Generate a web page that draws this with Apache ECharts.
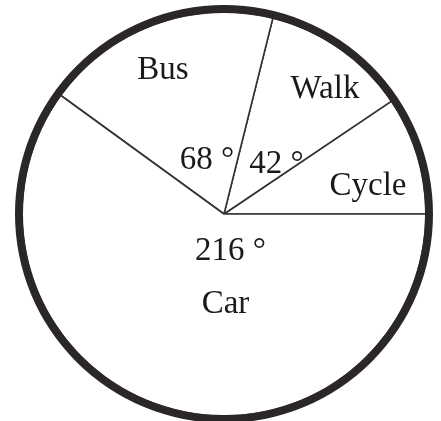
<!DOCTYPE html>
<html><head><meta charset="utf-8">
<script src="https://cdn.jsdelivr.net/npm/echarts@6/dist/echarts.min.js"></script>
<style>html,body{margin:0;padding:0;background:#fff}#c{width:441px;height:421px}</style>
</head><body><div id="c"></div>
<script>
// ---- data ----
const categories = ['Cycle', 'Walk', 'Bus', 'Car'];
const degrees = [34, 42, 68, 216];
const showDegree = [false, true, true, true];

// ---- layout (label offsets in px from the pie centre) ----
const nameOffsets = [[144, -28], [101, -125], [-61, -144], [1.5, 90]];
const degreeOffsets = [[0, 0], [52.5, -50], [-17, -54], [6.5, 37.5]];

const CX = 224, CY = 214, R_OUT = 209, RING = 8;
const FONT = 'Liberation Serif';
const TEXT = '#1a1a1a';

const chart = echarts.init(document.getElementById('c'), null, { renderer: 'canvas' });
const pieData = categories.map((n, i) => ({ name: n, value: degrees[i] }));

chart.setOption({
  animation: false,
  backgroundColor: '#fff',
  series: [
    {
      type: 'pie', silent: true, center: [CX, CY], radius: [0, R_OUT - RING + 1],
      startAngle: 0, clockwise: false, avoidLabelOverlap: false,
      data: pieData,
      itemStyle: { color: '#fff', borderColor: '#333', borderWidth: 1.6 },
      label: { show: true, position: 'inside', formatter: '{b}', fontFamily: FONT, fontSize: 33, color: TEXT },
      labelLine: { show: false },
      labelLayout: p => ({ x: CX + nameOffsets[p.dataIndex][0], y: CY + nameOffsets[p.dataIndex][1], align: 'center', verticalAlign: 'middle' }),
      emphasis: { disabled: true }
    },
    {
      type: 'pie', silent: true, center: [CX, CY], radius: [0, R_OUT - RING + 1],
      startAngle: 0, clockwise: false, avoidLabelOverlap: false,
      data: categories.map((n, i) => ({ name: n, value: degrees[i], label: { show: showDegree[i] } })),
      itemStyle: { color: 'rgba(0,0,0,0)', borderWidth: 0 },
      label: {
        show: true, position: 'inside', formatter: p => p.value + ' °',
        fontFamily: FONT, fontSize: 33, color: TEXT
      },
      labelLine: { show: false },
      labelLayout: p => ({ x: CX + degreeOffsets[p.dataIndex][0], y: CY + degreeOffsets[p.dataIndex][1], align: 'center', verticalAlign: 'middle' }),
      emphasis: { disabled: true }
    },
    {
      type: 'pie', silent: true, center: [CX, CY], radius: [R_OUT - RING, R_OUT],
      data: [{ value: 1, name: 'ring' }],
      itemStyle: { color: '#2b2728' },
      label: { show: false }, labelLine: { show: false },
      emphasis: { disabled: true }
    }
  ]
});
</script></body></html>
